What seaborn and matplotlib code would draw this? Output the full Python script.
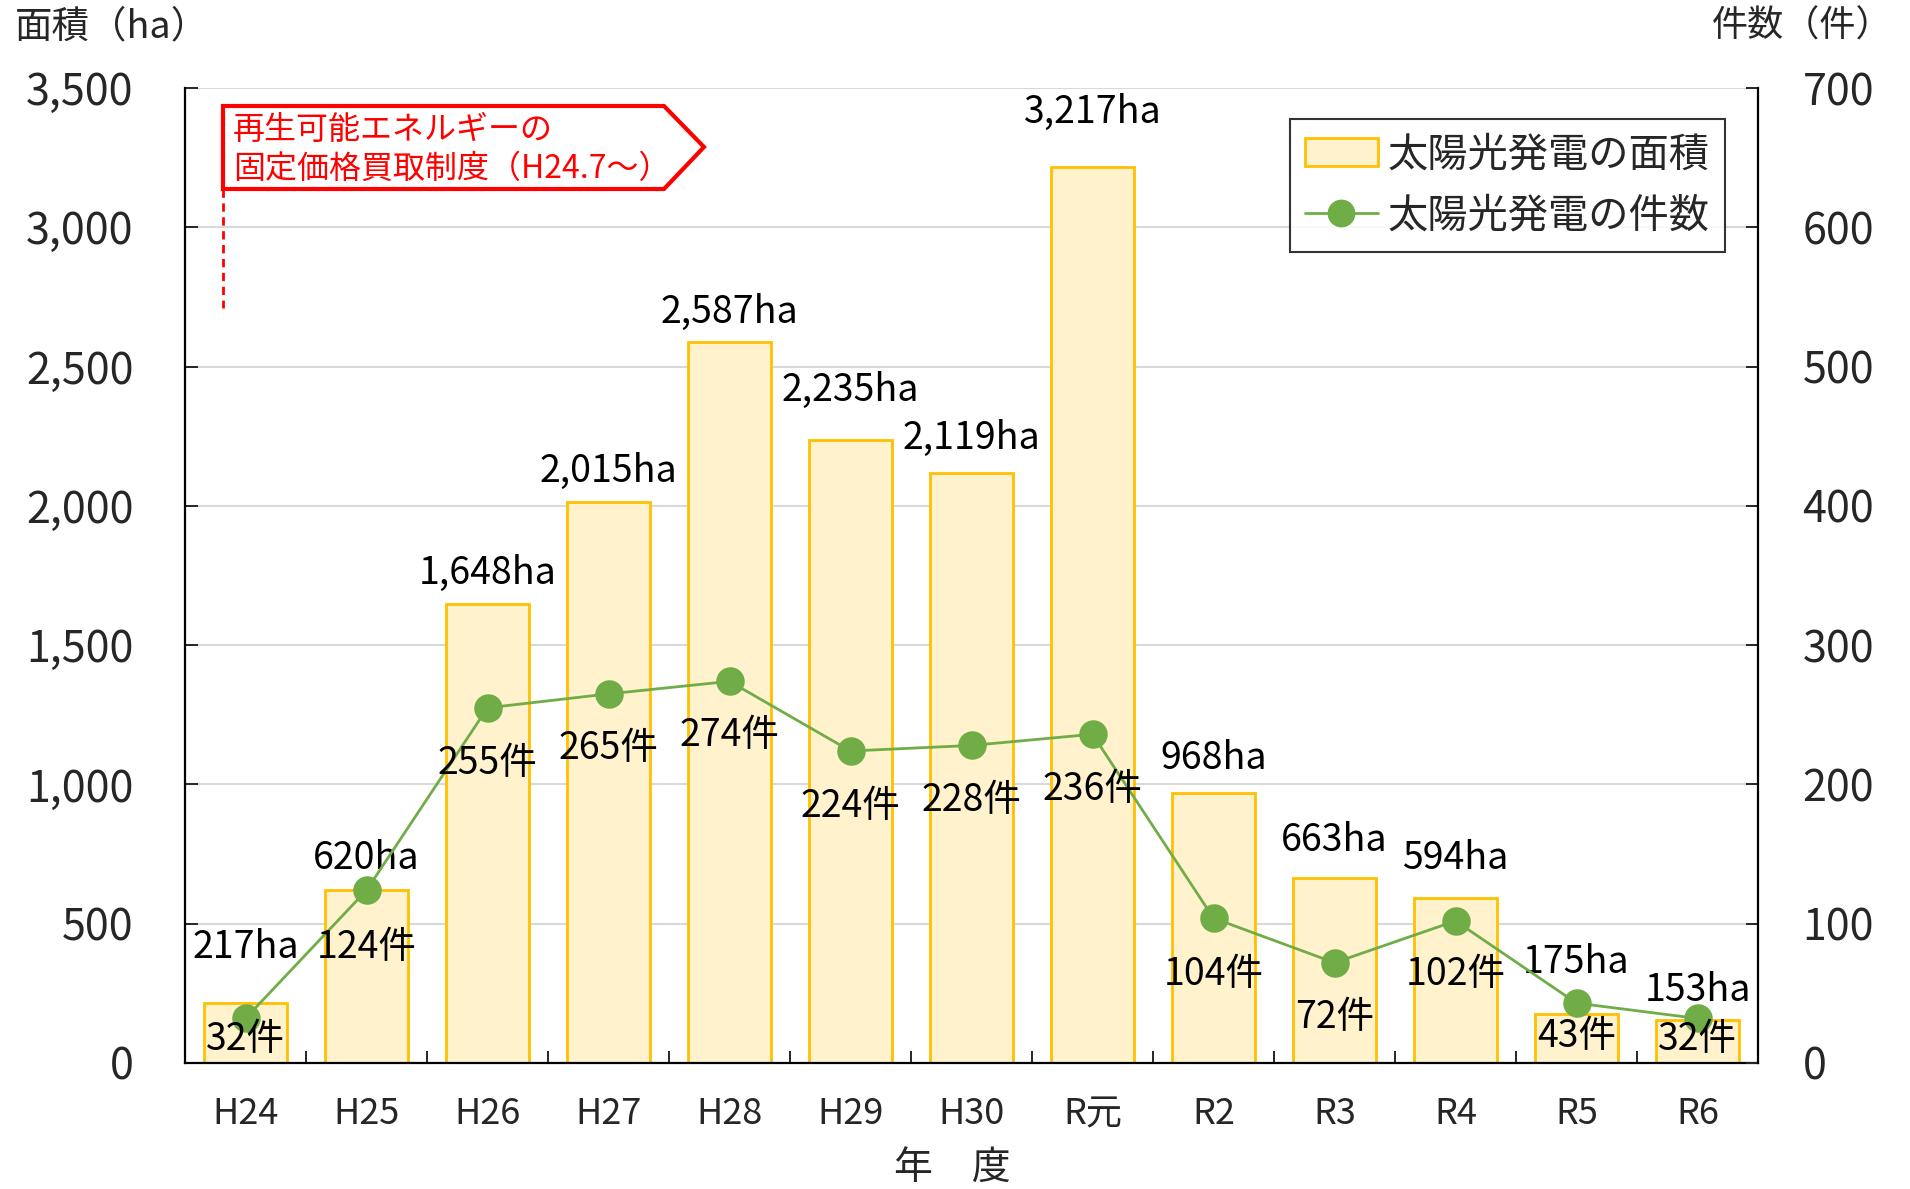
import matplotlib
matplotlib.use('Agg')
import matplotlib.pyplot as plt
import seaborn as sns
from matplotlib.patches import Patch, Polygon
from matplotlib.lines import Line2D
from matplotlib.ticker import FuncFormatter, MultipleLocator

sns.set_style('white')
plt.rcParams['font.family'] = ['Noto Sans CJK JP', 'DejaVu Sans']

# データ
years = ['H24', 'H25', 'H26', 'H27', 'H28', 'H29', 'H30', 'R元', 'R2', 'R3', 'R4', 'R5', 'R6']
area_ha = [217, 620, 1648, 2015, 2587, 2235, 2119, 3217, 968, 663, 594, 175, 153]
counts = [32, 124, 255, 265, 274, 224, 228, 236, 104, 72, 102, 43, 32]

# ラベル位置の調整（ピクセル）
area_label_dy = [55, 32, 30, 30, 30, 50, 34, 54, 35, 38, 39, 52, 30]
count_label_dy = [21, 57, 56, 55, 54, 55, 55, 55, 56, 55, 54, 33, 21]

fill_c = '#FFF2CC'
edge_c = '#FFC000'
green = '#70AD47'

W, H = 1910, 1189
fig = plt.figure(figsize=(W / 100, H / 100), dpi=100)
ax = fig.add_axes([185 / W, 1 - 1063 / H, (1758 - 185) / W, (1063 - 88) / H])

sns.barplot(x=years, y=area_ha, ax=ax, color=fill_c, saturation=1,
            edgecolor=edge_c, linewidth=2, width=0.68, zorder=2)
ax.set_ylim(0, 3500)
ax.set_xlim(-0.5, len(years) - 0.5)
ax.yaxis.set_major_locator(MultipleLocator(500))
ax.yaxis.set_major_formatter(FuncFormatter(lambda v, p: f'{int(v):,}'))
ax.grid(axis='y', color='#D9D9D9', linewidth=1.5, zorder=0)
ax.set_axisbelow(True)
for s in ['left', 'bottom']:
    ax.spines[s].set_color('black')
    ax.spines[s].set_linewidth(1.6)
ax.spines['top'].set_visible(False)
ax.spines['right'].set_visible(False)
ax.tick_params(axis='y', direction='in', length=9, width=1.4, labelsize=31, pad=37, left=True)
ax.set_xticks(range(len(years)))
ax.set_xticklabels(years)
ax.set_xticks([i + 0.5 for i in range(len(years) - 1)], minor=True)
ax.tick_params(axis='x', which='major', length=0, labelsize=26, pad=24)
ax.tick_params(axis='x', which='minor', direction='in', length=9, width=1.4, bottom=True)
ax.set_xlabel('')
ax.set_ylabel('')

for i, v in enumerate(area_ha):
    ax.annotate(f'{v:,}ha', (i, v), xytext=(0, area_label_dy[i]), textcoords='offset pixels',
                ha='center', va='center', fontsize=27, color='black', zorder=5)

ax2 = ax.twinx()
sns.pointplot(x=years, y=counts, ax=ax2, color=green, markersize=19, linewidth=2)
ax2.set_ylim(0, 700)
ax2.set_xlim(-0.5, len(years) - 0.5)
ax2.yaxis.set_major_locator(MultipleLocator(100))
ax2.spines['right'].set_color('black')
ax2.spines['right'].set_linewidth(1.6)
for s in ['left', 'bottom', 'top']:
    ax2.spines[s].set_visible(False)
ax2.tick_params(axis='y', direction='in', length=9, width=1.4, labelsize=31, pad=32, right=True)
ax2.set_ylabel('')
ax2.set_xlabel('')

for i, v in enumerate(counts):
    ax2.annotate(f'{v}件', (i, v), xytext=(0, -count_label_dy[i]), textcoords='offset pixels',
                 ha='center', va='center', fontsize=27, color='black', zorder=6)

handles = [Patch(facecolor=fill_c, edgecolor=edge_c, linewidth=2),
           Line2D([0], [0], color=green, linewidth=2, marker='o', markersize=19)]
leg = ax2.legend(handles, ['太陽光発電の面積', '太陽光発電の件数'], loc='upper right',
                 bbox_to_anchor=((1725 - 185) / 1573, (1063 - 119) / 975), borderaxespad=0,
                 fontsize=29, frameon=True, fancybox=False, edgecolor='black',
                 handlelength=1.8, handletextpad=0.25, labelspacing=0.5, borderpad=0.38)
leg.get_frame().set_linewidth(1.5)
leg.set_zorder(10)

# 軸タイトル
fig.text(15 / W, 1 - 27 / H, '面積（ha）', fontsize=27, ha='left', va='center')
fig.text(1892 / W, 1 - 27 / H, '件数（件）', fontsize=26, ha='right', va='center')
fig.text(952 / W, 1 - 1169 / H, '年　度', fontsize=28, ha='center', va='center')

# 固定価格買取制度の注記
pts = [(223, 106), (664, 106), (704, 147), (664, 189), (223, 189)]
fig.patches.append(Polygon([(x / W, 1 - y / H) for x, y in pts], closed=True, transform=fig.transFigure,
                           facecolor='white', edgecolor='#FF0000', linewidth=3, zorder=20))
fig.lines.append(Line2D([223 / W, 223 / W], [1 - 189 / H, 1 - 308 / H], transform=fig.transFigure,
                        color='#FF0000', linestyle=(0, (3, 2)), linewidth=2))
fig.text(233 / W, 1 - 130 / H, '再生可能エネルギーの', fontsize=23, color='#FF0000', ha='left', va='center', zorder=21)
fig.text(233 / W, 1 - 169 / H, '固定価格買取制度（H24.7～）', fontsize=23, color='#FF0000', ha='left', va='center', zorder=21)

fig.savefig('out.png', dpi=100)
